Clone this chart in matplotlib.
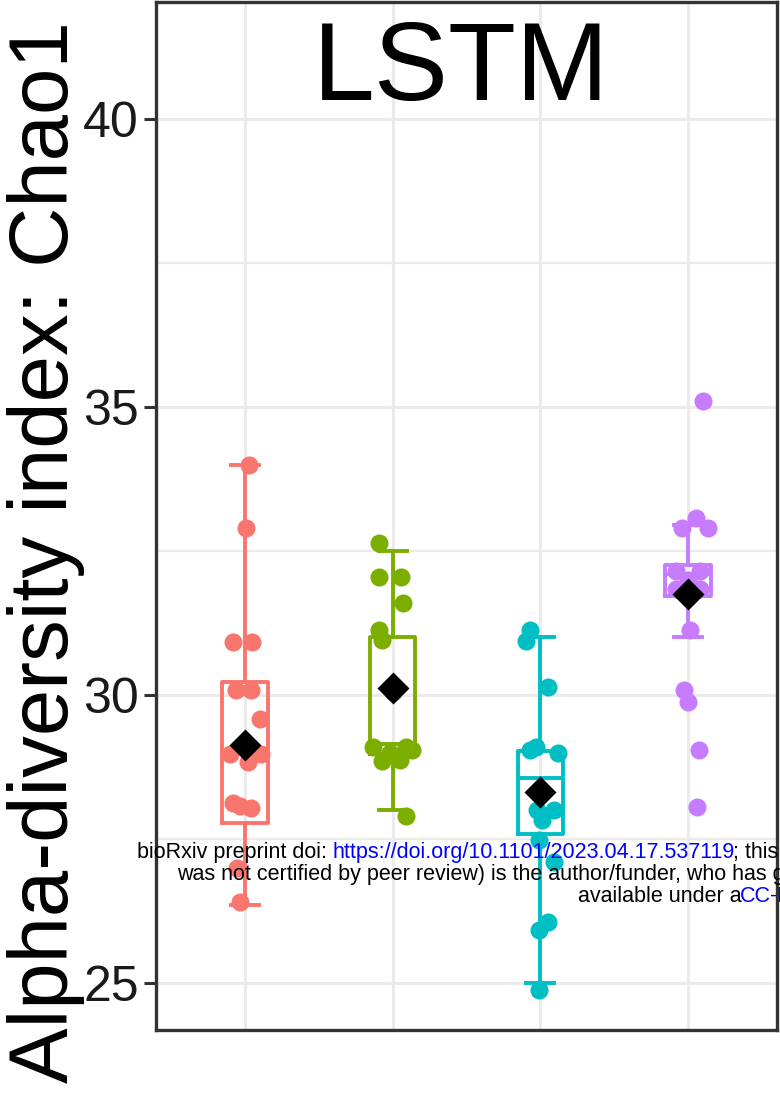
import numpy as np
import matplotlib
matplotlib.use("Agg")
import matplotlib.pyplot as plt

plt.rcParams['font.family'] = ['Liberation Sans', 'DejaVu Sans']

# Chao1 values per group, with the horizontal jitter each dot was drawn at
red_vals = [34.0, 32.9, 30.92, 30.92, 30.09, 30.09, 29.58, 28.97, 28.98, 28.84, 28.12, 28.04, 28.08, 27.0, 26.4]
red_jit = [0.03, 0.01, -0.08, 0.05, -0.06, 0.04, 0.10, -0.10, 0.11, 0.02, -0.08, 0.04, -0.03, -0.05, -0.03]

green_vals = [32.64, 32.05, 32.05, 31.6, 31.13, 30.95, 30.05, 29.1, 29.0, 29.1, 29.05, 28.85, 28.87, 27.9]
green_jit = [-0.09, -0.09, 0.06, 0.07, -0.09, -0.07, 0.0, -0.13, -0.02, 0.09, 0.13, -0.07, 0.05, 0.09]

teal_vals = [31.13, 30.93, 30.14, 29.1, 29.0, 29.05, 28.0, 28.0, 27.83, 27.48, 27.1, 26.06, 25.92, 24.88]
teal_jit = [-0.07, -0.10, 0.05, -0.03, 0.12, -0.07, -0.02, 0.09, 0.01, -0.01, 0.09, 0.05, -0.01, -0.01]

purple_vals = [35.1, 33.07, 32.9, 32.9, 32.15, 32.15, 32.0, 31.85, 31.85, 31.13, 30.09, 29.88, 29.05, 28.06]
purple_jit = [0.10, 0.05, -0.04, 0.13, -0.08, 0.08, 0.0, -0.08, 0.08, 0.01, -0.03, 0.0, 0.07, 0.06]

# box summaries
whislo = [26.35, 28.0, 25.0, 31.0]
q1 = [27.78, 28.97, 27.58, 31.72]
med = [29.0, 29.15, 28.55, 32.1]
q3 = [30.23, 31.0, 29.02, 32.26]
whishi = [34.0, 32.5, 31.0, 32.95]
means = [29.13, 30.12, 28.32, 31.76]

colors = ['#F8766D', '#7CAE00', '#00BFC4', '#C77CFF']
all_vals = [red_vals, green_vals, teal_vals, purple_vals]
all_jit = [red_jit, green_jit, teal_jit, purple_jit]

W, H = 780, 1093
fig = plt.figure(figsize=(W / 100, H / 100), dpi=100)
ax = fig.add_axes([156 / W, (H - 1030) / H, (777 - 156) / W, (1030 - 2) / H])

lw = 2.8
for i, c in enumerate(colors):
    pos = i + 1
    stats = [dict(whislo=whislo[i], q1=q1[i], med=med[i], q3=q3[i], whishi=whishi[i])]
    ax.bxp(stats, positions=[pos], widths=0.31, capwidths=0.19, showfliers=False,
           boxprops=dict(color=c, lw=lw), whiskerprops=dict(color=c, lw=lw),
           capprops=dict(color=c, lw=lw), medianprops=dict(color=c, lw=lw),
           zorder=2)
    xs = pos + np.array(all_jit[i])
    ax.plot(xs, all_vals[i], 'o', ms=13, color=c, mec='none', zorder=3)

ax.plot(range(1, 5), means, 'D', ms=16, color='black', mec='none', zorder=4)

ax.set_xlim(0.4, 4.6)
ax.set_ylim(24.18, 42.04)
ax.set_yticks([25, 30, 35, 40])
ax.set_yticklabels(['25', '30', '35', '40'])
ax.set_yticks([27.5, 32.5, 37.5], minor=True)
ax.set_xticks([1, 2, 3, 4])
ax.tick_params(axis='x', length=0, labelbottom=False)
ax.tick_params(axis='y', which='major', length=8.5, width=2.2, color='#333333',
               labelsize=36, labelcolor='#1a1a1a', pad=4)
ax.tick_params(axis='y', which='minor', length=0)
ax.grid(True, which='major', color='#EBEBEB', lw=2.2, zorder=0)
ax.grid(True, which='minor', axis='y', color='#EBEBEB', lw=1.6, zorder=0)
ax.set_axisbelow(True)
for sp in ax.spines.values():
    sp.set_color('#333333')
    sp.set_linewidth(2.4)

fig.text(461 / W, 1 - 100 / H, 'LSTM', fontsize=80, ha='center', va='baseline')
fig.text(68 / W, 1 - 552 / H, 'Alpha-diversity index: Chao1', fontsize=60,
         rotation=90, rotation_mode='anchor', ha='center', va='baseline')

# preprint banner
fs = 15.5
banner = [
    (137, 858, 'bioRxiv preprint doi: ', 'black'),
    (332, 858, 'https://doi.org/10.1101/2023.04.17.537119', 'blue'),
    (733, 858, '; this', 'black'),
    (177, 880, 'was not certified by peer review) is the author/funder, who has granted', 'black'),
    (578, 902, 'available under a', 'black'),
    (740, 902, 'CC-BY', 'blue'),
]
for x, y, s, c in banner:
    fig.text(x / W, 1 - y / H, s, fontsize=fs, color=c, ha='left', va='baseline', zorder=10)

fig.savefig('out.png', dpi=100)
